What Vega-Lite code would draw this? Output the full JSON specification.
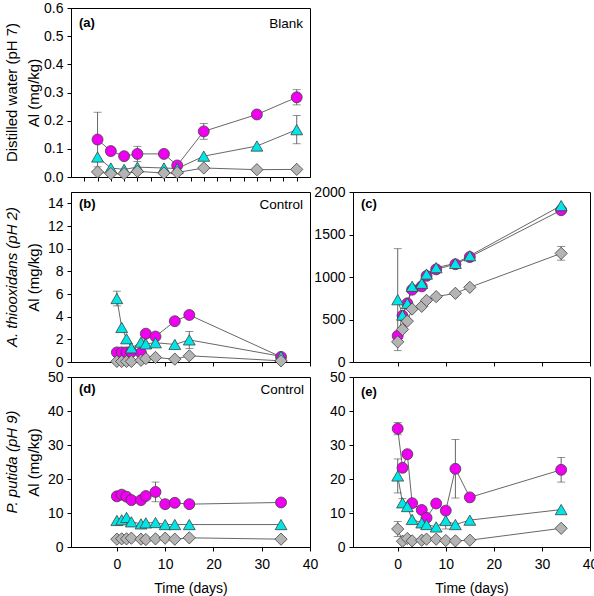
{
  "$schema": "https://vega.github.io/schema/vega-lite/v6.json",
  "background": "white",
  "padding": {"left": 4, "top": 0, "right": 0, "bottom": 0},
  "config": {
    "font": "Liberation Sans",
    "view": {"stroke": "black", "strokeWidth": 1},
    "axis": {
      "grid": false, "domainColor": "black", "tickColor": "black", "tickSize": 4, "tickWidth": 1,
      "labelFont": "Liberation Sans", "labelFontSize": 14, "labelColor": "black", "labelPadding": 4, "labelFlush": false,
      "titleFont": "Liberation Sans", "titleFontSize": 15, "titleFontWeight": "normal", "titleColor": "black"
    },
    "axisX": {"labelPadding": 6, "titlePadding": 10, "titleFontSize": 14},
    "title": {"font": "Liberation Sans", "fontSize": 15, "fontWeight": "normal", "color": "black"},
    "text": {"font": "Liberation Sans", "color": "black"}
  },
  "datasets": {
    "al": [
      {"p": "a", "s": "S1", "d": 0, "v": 0.133, "e": 0.097},
      {"p": "a", "s": "S1", "d": 1, "v": 0.092},
      {"p": "a", "s": "S1", "d": 2, "v": 0.074},
      {"p": "a", "s": "S1", "d": 3, "v": 0.082, "e": 0.027},
      {"p": "a", "s": "S1", "d": 5, "v": 0.082},
      {"p": "a", "s": "S1", "d": 6, "v": 0.041},
      {"p": "a", "s": "S1", "d": 8, "v": 0.162, "e": 0.028},
      {"p": "a", "s": "S1", "d": 12, "v": 0.222},
      {"p": "a", "s": "S1", "d": 15, "v": 0.283, "e": 0.027},
      {"p": "a", "s": "S2", "d": 0, "v": 0.071},
      {"p": "a", "s": "S2", "d": 1, "v": 0.032},
      {"p": "a", "s": "S2", "d": 2, "v": 0.027},
      {"p": "a", "s": "S2", "d": 3, "v": 0.035},
      {"p": "a", "s": "S2", "d": 5, "v": 0.032},
      {"p": "a", "s": "S2", "d": 6, "v": 0.03},
      {"p": "a", "s": "S2", "d": 8, "v": 0.074},
      {"p": "a", "s": "S2", "d": 12, "v": 0.11},
      {"p": "a", "s": "S2", "d": 15, "v": 0.168, "e": 0.05},
      {"p": "a", "s": "S3", "d": 0, "v": 0.018},
      {"p": "a", "s": "S3", "d": 1, "v": 0.012},
      {"p": "a", "s": "S3", "d": 2, "v": 0.012},
      {"p": "a", "s": "S3", "d": 3, "v": 0.02},
      {"p": "a", "s": "S3", "d": 5, "v": 0.014},
      {"p": "a", "s": "S3", "d": 6, "v": 0.016},
      {"p": "a", "s": "S3", "d": 8, "v": 0.032},
      {"p": "a", "s": "S3", "d": 12, "v": 0.026},
      {"p": "a", "s": "S3", "d": 15, "v": 0.027},

      {"p": "b", "s": "S1", "d": 0, "v": 0.85},
      {"p": "b", "s": "S1", "d": 1, "v": 0.85},
      {"p": "b", "s": "S1", "d": 2, "v": 0.85},
      {"p": "b", "s": "S1", "d": 3, "v": 0.9},
      {"p": "b", "s": "S1", "d": 5, "v": 0.8},
      {"p": "b", "s": "S1", "d": 6, "v": 2.5},
      {"p": "b", "s": "S1", "d": 8, "v": 2.25},
      {"p": "b", "s": "S1", "d": 12, "v": 3.6},
      {"p": "b", "s": "S1", "d": 15, "v": 4.15},
      {"p": "b", "s": "S1", "d": 34, "v": 0.45},
      {"p": "b", "s": "S2", "d": 0, "v": 5.6, "e": 0.65},
      {"p": "b", "s": "S2", "d": 1, "v": 3.05},
      {"p": "b", "s": "S2", "d": 2, "v": 2.05},
      {"p": "b", "s": "S2", "d": 3, "v": 1.25},
      {"p": "b", "s": "S2", "d": 5, "v": 1.75},
      {"p": "b", "s": "S2", "d": 6, "v": 1.6},
      {"p": "b", "s": "S2", "d": 8, "v": 1.7},
      {"p": "b", "s": "S2", "d": 12, "v": 1.55},
      {"p": "b", "s": "S2", "d": 15, "v": 1.95, "e": 0.75},
      {"p": "b", "s": "S2", "d": 34, "v": 0.5},
      {"p": "b", "s": "S3", "d": 0, "v": 0.05},
      {"p": "b", "s": "S3", "d": 1, "v": 0.05},
      {"p": "b", "s": "S3", "d": 2, "v": 0.05},
      {"p": "b", "s": "S3", "d": 3, "v": 0.05},
      {"p": "b", "s": "S3", "d": 5, "v": 0.15},
      {"p": "b", "s": "S3", "d": 6, "v": 0.3},
      {"p": "b", "s": "S3", "d": 8, "v": 0.4},
      {"p": "b", "s": "S3", "d": 12, "v": 0.25},
      {"p": "b", "s": "S3", "d": 15, "v": 0.55},
      {"p": "b", "s": "S3", "d": 34, "v": 0.1},

      {"p": "c", "s": "S1", "d": 0, "v": 308},
      {"p": "c", "s": "S1", "d": 1, "v": 545},
      {"p": "c", "s": "S1", "d": 2, "v": 690},
      {"p": "c", "s": "S1", "d": 3, "v": 850},
      {"p": "c", "s": "S1", "d": 5, "v": 890},
      {"p": "c", "s": "S1", "d": 6, "v": 1013},
      {"p": "c", "s": "S1", "d": 8, "v": 1090},
      {"p": "c", "s": "S1", "d": 12, "v": 1150},
      {"p": "c", "s": "S1", "d": 15, "v": 1235},
      {"p": "c", "s": "S1", "d": 34, "v": 1786},
      {"p": "c", "s": "S2", "d": 0, "v": 733, "e": 600},
      {"p": "c", "s": "S2", "d": 1, "v": 552},
      {"p": "c", "s": "S2", "d": 2, "v": 690},
      {"p": "c", "s": "S2", "d": 3, "v": 890},
      {"p": "c", "s": "S2", "d": 5, "v": 926},
      {"p": "c", "s": "S2", "d": 6, "v": 1035},
      {"p": "c", "s": "S2", "d": 8, "v": 1110},
      {"p": "c", "s": "S2", "d": 12, "v": 1160},
      {"p": "c", "s": "S2", "d": 15, "v": 1250},
      {"p": "c", "s": "S2", "d": 34, "v": 1840},
      {"p": "c", "s": "S3", "d": 0, "v": 237},
      {"p": "c", "s": "S3", "d": 1, "v": 383},
      {"p": "c", "s": "S3", "d": 2, "v": 481},
      {"p": "c", "s": "S3", "d": 3, "v": 623},
      {"p": "c", "s": "S3", "d": 5, "v": 655},
      {"p": "c", "s": "S3", "d": 6, "v": 725},
      {"p": "c", "s": "S3", "d": 8, "v": 769},
      {"p": "c", "s": "S3", "d": 12, "v": 808},
      {"p": "c", "s": "S3", "d": 15, "v": 879},
      {"p": "c", "s": "S3", "d": 34, "v": 1278, "e": 80},

      {"p": "d", "s": "S1", "d": 0, "v": 14.9},
      {"p": "d", "s": "S1", "d": 1, "v": 15.4},
      {"p": "d", "s": "S1", "d": 2, "v": 14.8},
      {"p": "d", "s": "S1", "d": 3, "v": 13.8},
      {"p": "d", "s": "S1", "d": 5, "v": 13.8},
      {"p": "d", "s": "S1", "d": 6, "v": 15.0},
      {"p": "d", "s": "S1", "d": 8, "v": 16.2, "e": 2.9},
      {"p": "d", "s": "S1", "d": 10, "v": 12.6},
      {"p": "d", "s": "S1", "d": 12, "v": 13.0},
      {"p": "d", "s": "S1", "d": 15, "v": 12.6},
      {"p": "d", "s": "S1", "d": 34, "v": 13.1},
      {"p": "d", "s": "S2", "d": 0, "v": 7.8},
      {"p": "d", "s": "S2", "d": 1, "v": 8.0},
      {"p": "d", "s": "S2", "d": 2, "v": 8.7},
      {"p": "d", "s": "S2", "d": 3, "v": 7.4},
      {"p": "d", "s": "S2", "d": 5, "v": 6.8},
      {"p": "d", "s": "S2", "d": 6, "v": 7.1},
      {"p": "d", "s": "S2", "d": 8, "v": 7.2},
      {"p": "d", "s": "S2", "d": 10, "v": 6.6},
      {"p": "d", "s": "S2", "d": 12, "v": 6.6},
      {"p": "d", "s": "S2", "d": 15, "v": 6.6},
      {"p": "d", "s": "S2", "d": 34, "v": 6.6},
      {"p": "d", "s": "S3", "d": 0, "v": 2.3},
      {"p": "d", "s": "S3", "d": 1, "v": 2.4},
      {"p": "d", "s": "S3", "d": 2, "v": 2.4},
      {"p": "d", "s": "S3", "d": 3, "v": 2.6},
      {"p": "d", "s": "S3", "d": 5, "v": 2.3},
      {"p": "d", "s": "S3", "d": 6, "v": 2.2},
      {"p": "d", "s": "S3", "d": 8, "v": 2.4},
      {"p": "d", "s": "S3", "d": 10, "v": 2.6},
      {"p": "d", "s": "S3", "d": 12, "v": 2.3},
      {"p": "d", "s": "S3", "d": 15, "v": 2.7},
      {"p": "d", "s": "S3", "d": 34, "v": 2.3},

      {"p": "e", "s": "S1", "d": 0, "v": 34.8, "e": 1.8},
      {"p": "e", "s": "S1", "d": 1, "v": 23.3},
      {"p": "e", "s": "S1", "d": 2, "v": 27.3},
      {"p": "e", "s": "S1", "d": 3, "v": 12.9},
      {"p": "e", "s": "S1", "d": 5, "v": 10.9},
      {"p": "e", "s": "S1", "d": 6, "v": 8.6},
      {"p": "e", "s": "S1", "d": 8, "v": 12.8},
      {"p": "e", "s": "S1", "d": 10, "v": 10.7},
      {"p": "e", "s": "S1", "d": 12, "v": 23.0, "e": 8.6},
      {"p": "e", "s": "S1", "d": 15, "v": 14.6},
      {"p": "e", "s": "S1", "d": 34, "v": 22.7, "e": 3.6},
      {"p": "e", "s": "S2", "d": 0, "v": 20.9, "e": 5.0},
      {"p": "e", "s": "S2", "d": 1, "v": 13.0, "e": 1.2},
      {"p": "e", "s": "S2", "d": 2, "v": 11.9},
      {"p": "e", "s": "S2", "d": 3, "v": 8.1},
      {"p": "e", "s": "S2", "d": 5, "v": 7.1},
      {"p": "e", "s": "S2", "d": 6, "v": 6.6},
      {"p": "e", "s": "S2", "d": 8, "v": 5.9},
      {"p": "e", "s": "S2", "d": 10, "v": 7.8, "e": 2.5},
      {"p": "e", "s": "S2", "d": 12, "v": 6.6},
      {"p": "e", "s": "S2", "d": 15, "v": 7.9},
      {"p": "e", "s": "S2", "d": 34, "v": 11.0},
      {"p": "e", "s": "S3", "d": 0, "v": 5.3, "e": 2.2},
      {"p": "e", "s": "S3", "d": 1, "v": 1.7},
      {"p": "e", "s": "S3", "d": 2, "v": 2.5},
      {"p": "e", "s": "S3", "d": 3, "v": 1.8},
      {"p": "e", "s": "S3", "d": 5, "v": 2.0},
      {"p": "e", "s": "S3", "d": 6, "v": 2.3},
      {"p": "e", "s": "S3", "d": 8, "v": 2.3},
      {"p": "e", "s": "S3", "d": 10, "v": 1.9},
      {"p": "e", "s": "S3", "d": 12, "v": 1.8},
      {"p": "e", "s": "S3", "d": 15, "v": 2.0},
      {"p": "e", "s": "S3", "d": 34, "v": 5.5}
    ]
  },
  "bounds": "flush",
  "align": "each",
  "columns": 2,
  "spacing": {"row": 15, "column": 43},
  "concat": [
    {
      "width": 239, "height": 169,
      "data": {"name": "al"},
      "title": {"text": "Distilled water (pH 7)", "orient": "left", "frame": "group", "anchor": "middle", "offset": 6},
      "encoding": {
        "x": {"field": "d", "type": "quantitative", "scale": {"domain": [-2, 16], "nice": false},
              "axis": {"values": [-1, 0, 1, 2, 3, 4, 5, 6, 7, 8, 9, 10, 11, 12, 13, 14, 15], "labels": false, "title": null}},
        "y": {"field": "v", "type": "quantitative", "scale": {"domain": [0, 0.6], "nice": false},
              "axis": {"values": [0, 0.1, 0.2, 0.3, 0.4, 0.5, 0.6], "format": ".1f", "title": "Al (mg/kg)", "minExtent": 28, "maxExtent": 28, "titlePadding": 2}}
      },
      "layer": [
        {"transform": [{"filter": "datum.p === 'a'"}], "mark": {"type": "line", "stroke": "#404040", "strokeWidth": 0.8}, "encoding": {"detail": {"field": "s"}}},
        {"transform": [{"filter": "datum.p === 'a' && datum.e > 0"}], "mark": {"type": "errorbar", "ticks": true, "size": 8, "thickness": 0.8, "color": "#404040"}, "encoding": {"yError": {"field": "e"}}},
        {"transform": [{"filter": "datum.p === 'a' && datum.s === 'S1'"}], "mark": {"type": "point", "shape": "circle", "size": 120, "filled": true, "fill": "#f000f0", "stroke": "#404040", "strokeWidth": 0.8, "opacity": 1}},
        {"transform": [{"filter": "datum.p === 'a' && datum.s === 'S2'"}], "mark": {"type": "point", "shape": "triangle-up", "size": 140, "filled": true, "fill": "#00e5e5", "stroke": "#404040", "strokeWidth": 0.8, "opacity": 1}},
        {"transform": [{"filter": "datum.p === 'a' && datum.s === 'S3'"}], "mark": {"type": "point", "shape": "diamond", "size": 150, "filled": true, "fill": "#b4b4b4", "stroke": "#404040", "strokeWidth": 0.8, "opacity": 1}},
        {"transform": [{"filter": "datum.p === 'a' && datum.s === 'S1' && datum.d === 0"}],
         "mark": {"type": "text", "text": "(a)", "align": "left", "baseline": "top", "dx": 8, "dy": 9, "fontWeight": "bold", "fontSize": 13},
         "encoding": {"x": {"datum": -2}, "y": {"datum": 0.6}}},
        {"transform": [{"filter": "datum.p === 'a' && datum.s === 'S1' && datum.d === 0"}],
         "mark": {"type": "text", "text": "Blank", "align": "right", "baseline": "top", "dx": -7, "dy": 9, "fontSize": 13.5},
         "encoding": {"x": {"datum": 16}, "y": {"datum": 0.6}}}
      ]
    },
    {
      "width": 237, "height": 169,
      "data": {"name": "al"},
      "view": {"stroke": null},
      "transform": [{"filter": "datum.p === 'none'"}],
      "mark": {"type": "point", "opacity": 0},
      "encoding": {
        "x": {"field": "d", "type": "quantitative", "axis": null},
        "y": {"field": "v", "type": "quantitative", "axis": null}
      }
    },
    {
      "width": 239, "height": 170,
      "data": {"name": "al"},
      "title": {"text": "A. thiooxidans (pH 2)", "orient": "left", "frame": "group", "anchor": "middle", "offset": 6, "fontStyle": "italic"},
      "encoding": {
        "x": {"field": "d", "type": "quantitative", "scale": {"domain": [-9.5, 40], "nice": false},
              "axis": {"values": [0, 10, 20, 30, 40], "labels": false, "title": null}},
        "y": {"field": "v", "type": "quantitative", "scale": {"domain": [0, 15], "nice": false},
              "axis": {"values": [0, 2, 4, 6, 8, 10, 12, 14], "title": "Al (mg/kg)", "minExtent": 28, "maxExtent": 28, "titlePadding": 2}}
      },
      "layer": [
        {"transform": [{"filter": "datum.p === 'b'"}], "mark": {"type": "line", "stroke": "#404040", "strokeWidth": 0.8}, "encoding": {"detail": {"field": "s"}}},
        {"transform": [{"filter": "datum.p === 'b' && datum.e > 0"}], "mark": {"type": "errorbar", "ticks": true, "size": 8, "thickness": 0.8, "color": "#404040"}, "encoding": {"yError": {"field": "e"}}},
        {"transform": [{"filter": "datum.p === 'b' && datum.s === 'S1'"}], "mark": {"type": "point", "shape": "circle", "size": 120, "filled": true, "fill": "#f000f0", "stroke": "#404040", "strokeWidth": 0.8, "opacity": 1}},
        {"transform": [{"filter": "datum.p === 'b' && datum.s === 'S2'"}], "mark": {"type": "point", "shape": "triangle-up", "size": 140, "filled": true, "fill": "#00e5e5", "stroke": "#404040", "strokeWidth": 0.8, "opacity": 1}},
        {"transform": [{"filter": "datum.p === 'b' && datum.s === 'S3'"}], "mark": {"type": "point", "shape": "diamond", "size": 150, "filled": true, "fill": "#b4b4b4", "stroke": "#404040", "strokeWidth": 0.8, "opacity": 1}},
        {"transform": [{"filter": "datum.p === 'b' && datum.s === 'S1' && datum.d === 0"}],
         "mark": {"type": "text", "text": "(b)", "align": "left", "baseline": "top", "dx": 8, "dy": 6, "fontWeight": "bold", "fontSize": 13},
         "encoding": {"x": {"datum": -9.5}, "y": {"datum": 15}}},
        {"transform": [{"filter": "datum.p === 'b' && datum.s === 'S1' && datum.d === 0"}],
         "mark": {"type": "text", "text": "Control", "align": "right", "baseline": "top", "dx": -7, "dy": 6, "fontSize": 13.5},
         "encoding": {"x": {"datum": 40}, "y": {"datum": 15}}}
      ]
    },
    {
      "width": 237, "height": 170,
      "data": {"name": "al"},
      "encoding": {
        "x": {"field": "d", "type": "quantitative", "scale": {"domain": [-9.3, 40], "nice": false},
              "axis": {"values": [0, 10, 20, 30, 40], "labels": false, "title": null}},
        "y": {"field": "v", "type": "quantitative", "scale": {"domain": [0, 2000], "nice": false},
              "axis": {"values": [0, 500, 1000, 1500, 2000], "format": "d", "title": null}}
      },
      "layer": [
        {"transform": [{"filter": "datum.p === 'c'"}], "mark": {"type": "line", "stroke": "#404040", "strokeWidth": 0.8}, "encoding": {"detail": {"field": "s"}}},
        {"transform": [{"filter": "datum.p === 'c' && datum.e > 0"}], "mark": {"type": "errorbar", "ticks": true, "size": 8, "thickness": 0.8, "color": "#404040"}, "encoding": {"yError": {"field": "e"}}},
        {"transform": [{"filter": "datum.p === 'c' && datum.s === 'S1'"}], "mark": {"type": "point", "shape": "circle", "size": 120, "filled": true, "fill": "#f000f0", "stroke": "#404040", "strokeWidth": 0.8, "opacity": 1}},
        {"transform": [{"filter": "datum.p === 'c' && datum.s === 'S2'"}], "mark": {"type": "point", "shape": "triangle-up", "size": 140, "filled": true, "fill": "#00e5e5", "stroke": "#404040", "strokeWidth": 0.8, "opacity": 1}},
        {"transform": [{"filter": "datum.p === 'c' && datum.s === 'S3'"}], "mark": {"type": "point", "shape": "diamond", "size": 150, "filled": true, "fill": "#b4b4b4", "stroke": "#404040", "strokeWidth": 0.8, "opacity": 1}},
        {"transform": [{"filter": "datum.p === 'c' && datum.s === 'S1' && datum.d === 0"}],
         "mark": {"type": "text", "text": "(c)", "align": "left", "baseline": "top", "dx": 8, "dy": 6, "fontWeight": "bold", "fontSize": 13},
         "encoding": {"x": {"datum": -9.3}, "y": {"datum": 2000}}}
      ]
    },
    {
      "width": 239, "height": 170,
      "data": {"name": "al"},
      "title": {"text": "P. putida (pH 9)", "orient": "left", "frame": "group", "anchor": "middle", "offset": 6, "fontStyle": "italic"},
      "encoding": {
        "x": {"field": "d", "type": "quantitative", "scale": {"domain": [-9.5, 40], "nice": false},
              "axis": {"values": [0, 10, 20, 30, 40], "title": "Time (days)"}},
        "y": {"field": "v", "type": "quantitative", "scale": {"domain": [0, 50], "nice": false},
              "axis": {"values": [0, 10, 20, 30, 40, 50], "title": "Al (mg/kg)", "minExtent": 28, "maxExtent": 28, "titlePadding": 2}}
      },
      "layer": [
        {"transform": [{"filter": "datum.p === 'd'"}], "mark": {"type": "line", "stroke": "#404040", "strokeWidth": 0.8}, "encoding": {"detail": {"field": "s"}}},
        {"transform": [{"filter": "datum.p === 'd' && datum.e > 0"}], "mark": {"type": "errorbar", "ticks": true, "size": 8, "thickness": 0.8, "color": "#404040"}, "encoding": {"yError": {"field": "e"}}},
        {"transform": [{"filter": "datum.p === 'd' && datum.s === 'S1'"}], "mark": {"type": "point", "shape": "circle", "size": 120, "filled": true, "fill": "#f000f0", "stroke": "#404040", "strokeWidth": 0.8, "opacity": 1}},
        {"transform": [{"filter": "datum.p === 'd' && datum.s === 'S2'"}], "mark": {"type": "point", "shape": "triangle-up", "size": 140, "filled": true, "fill": "#00e5e5", "stroke": "#404040", "strokeWidth": 0.8, "opacity": 1}},
        {"transform": [{"filter": "datum.p === 'd' && datum.s === 'S3'"}], "mark": {"type": "point", "shape": "diamond", "size": 150, "filled": true, "fill": "#b4b4b4", "stroke": "#404040", "strokeWidth": 0.8, "opacity": 1}},
        {"transform": [{"filter": "datum.p === 'd' && datum.s === 'S1' && datum.d === 0"}],
         "mark": {"type": "text", "text": "(d)", "align": "left", "baseline": "top", "dx": 8, "dy": 6, "fontWeight": "bold", "fontSize": 13},
         "encoding": {"x": {"datum": -9.5}, "y": {"datum": 50}}},
        {"transform": [{"filter": "datum.p === 'd' && datum.s === 'S1' && datum.d === 0"}],
         "mark": {"type": "text", "text": "Control", "align": "right", "baseline": "top", "dx": -6, "dy": 6, "fontSize": 13.5},
         "encoding": {"x": {"datum": 40}, "y": {"datum": 50}}}
      ]
    },
    {
      "width": 237, "height": 170,
      "data": {"name": "al"},
      "encoding": {
        "x": {"field": "d", "type": "quantitative", "scale": {"domain": [-9.3, 40], "nice": false},
              "axis": {"values": [0, 10, 20, 30, 40], "title": "Time (days)"}},
        "y": {"field": "v", "type": "quantitative", "scale": {"domain": [0, 50], "nice": false},
              "axis": {"values": [0, 10, 20, 30, 40, 50], "title": null}}
      },
      "layer": [
        {"transform": [{"filter": "datum.p === 'e'"}], "mark": {"type": "line", "stroke": "#404040", "strokeWidth": 0.8}, "encoding": {"detail": {"field": "s"}}},
        {"transform": [{"filter": "datum.p === 'e' && datum.e > 0"}], "mark": {"type": "errorbar", "ticks": true, "size": 8, "thickness": 0.8, "color": "#404040"}, "encoding": {"yError": {"field": "e"}}},
        {"transform": [{"filter": "datum.p === 'e' && datum.s === 'S1'"}], "mark": {"type": "point", "shape": "circle", "size": 120, "filled": true, "fill": "#f000f0", "stroke": "#404040", "strokeWidth": 0.8, "opacity": 1}},
        {"transform": [{"filter": "datum.p === 'e' && datum.s === 'S2'"}], "mark": {"type": "point", "shape": "triangle-up", "size": 140, "filled": true, "fill": "#00e5e5", "stroke": "#404040", "strokeWidth": 0.8, "opacity": 1}},
        {"transform": [{"filter": "datum.p === 'e' && datum.s === 'S3'"}], "mark": {"type": "point", "shape": "diamond", "size": 150, "filled": true, "fill": "#b4b4b4", "stroke": "#404040", "strokeWidth": 0.8, "opacity": 1}},
        {"transform": [{"filter": "datum.p === 'e' && datum.s === 'S1' && datum.d === 0"}],
         "mark": {"type": "text", "text": "(e)", "align": "left", "baseline": "top", "dx": 8, "dy": 9, "fontWeight": "bold", "fontSize": 13},
         "encoding": {"x": {"datum": -9.3}, "y": {"datum": 50}}}
      ]
    }
  ]
}
